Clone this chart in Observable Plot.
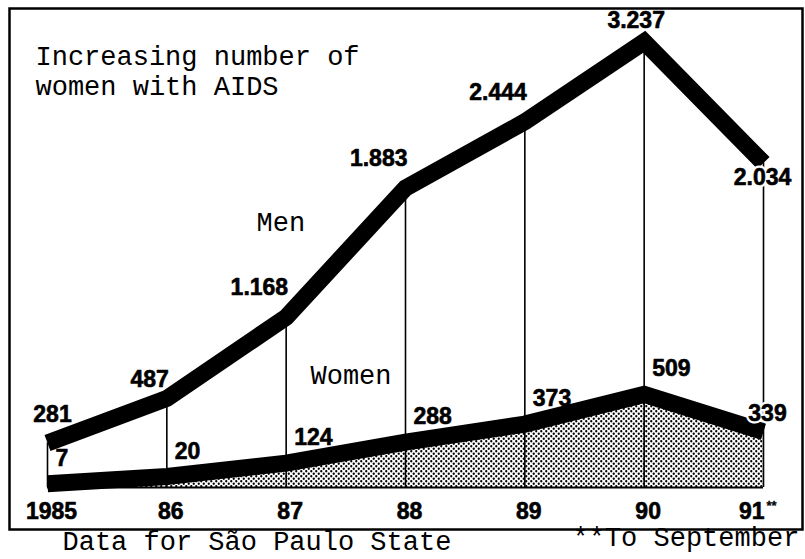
<!DOCTYPE html>
<html>
<head>
<meta charset="utf-8">
<script src="https://cdn.jsdelivr.net/npm/d3@7"></script>
<script src="https://cdn.jsdelivr.net/npm/@observablehq/plot@0.6"></script>
<style>
  html, body { margin: 0; padding: 0; background: #fff; }
  #chart svg { display: block; }
</style>
</head>
<body>
<div id="chart"></div>
<script>
// ---- data ----
const years = [1985, 1986, 1987, 1988, 1989, 1990, 1991];
const yearLabels = ["1985", "86", "87", "88", "89", "90", "91"];
const men = [281, 487, 1168, 1883, 2444, 3237, 2034];
const women = [7, 20, 124, 288, 373, 509, 339];
const seriesNames = ["Men", "Women"];
const titleText = "Increasing number of\nwomen with AIDS";
const sourceNote = "Data for São Paulo State";
const periodNote = "**To September";
const lastYearMark = "**";

// Portuguese-style thousands separator (1.168)
const fmt = d3.formatLocale({decimal: ",", thousands: ".", grouping: [3], currency: ["", ""]}).format(",d");

const rows = years.map((year, i) => ({year, label: yearLabels[i], men: men[i], women: women[i]}));
const last = years.length - 1;

const mono = "'Courier New', 'Liberation Mono', monospace";
const sans = "Arial, 'Liberation Sans', Helvetica, sans-serif";
const num = {fontFamily: sans, fontWeight: "bold", fontSize: 23, fill: "black", stroke: "black", strokeWidth: 0.6, lineAnchor: "bottom"};
const typ = {fontFamily: mono, fontSize: 27, fill: "black", lineAnchor: "bottom", textAnchor: "start", frameAnchor: "top-left"};
const halo = {fill: "white", stroke: "white", strokeWidth: 5, strokeLinejoin: "round"};
const only = (...idx) => (d, i) => idx.includes(i);
const menText = d => fmt(d.men);
const womenText = d => fmt(d.women);

const chart = Plot.plot({
  width: 805,
  height: 559,
  marginLeft: 9,
  marginTop: 8,
  marginRight: 3,
  marginBottom: 30,
  x: {domain: [years[0], years[last]], range: [47, 763], axis: null},
  // hand-drawn, non-uniform vertical scale of the original: piecewise linear
  y: {type: "linear", domain: [0, 20, 300, 500, 1200, 2000, 3300], range: [487, 476, 440, 395, 313, 166, 35], axis: null},
  style: {background: "white", overflow: "visible"},
  marks: [
    Plot.frame({stroke: "black", strokeWidth: 2.5}),
    // stippled area under the women's line
    Plot.areaY(rows, {x: "year", y: "women", fill: "url(#dots)"}),
    Plot.ruleY([0], {x1: years[0], x2: years[last], stroke: "black", strokeWidth: 2}),
    // thin verticals at each year
    Plot.ruleX(rows, {x: "year", y1: 0, y2: "men", stroke: "black", strokeWidth: 1.6}),
    // thick lines
    Plot.line(rows, {x: "year", y: "men", stroke: "black", strokeWidth: 17, strokeLinejoin: "miter", strokeLinecap: "butt", strokeMiterlimit: 10}),
    Plot.line(rows, {x: "year", y: "women", stroke: "black", strokeWidth: 17, strokeLinejoin: "miter", strokeLinecap: "butt", strokeMiterlimit: 10}),
    // men value labels
    Plot.text(rows, {filter: only(0), x: "year", y: "men", text: menText, ...num, textAnchor: "middle", dx: 5, dy: -21}),
    Plot.text(rows, {filter: only(1), x: "year", y: "men", text: menText, ...num, textAnchor: "end", dx: 2, dy: -11}),
    Plot.text(rows, {filter: only(2, 3, 4), x: "year", y: "men", text: menText, ...num, textAnchor: "end", dx: 2, dy: -22}),
    Plot.text(rows, {filter: only(5), x: "year", y: "men", text: menText, ...num, textAnchor: "middle", dx: -8, dy: -14}),
    Plot.text(rows, {filter: only(6), x: "year", y: "men", text: menText, ...num, ...halo, textAnchor: "middle", dx: -1, dy: 22}),
    Plot.text(rows, {filter: only(6), x: "year", y: "men", text: menText, ...num, textAnchor: "middle", dx: -1, dy: 22}),
    // women value labels
    Plot.text(rows, {filter: only(0, 1, 2, 3, 4, 5), x: "year", y: "women", text: womenText, ...num, textAnchor: "start", dx: 8, dy: -18}),
    Plot.text(rows, {filter: only(6), x: "year", y: "women", text: womenText, ...num, ...halo, textAnchor: "middle", dx: 4, dy: -11}),
    Plot.text(rows, {filter: only(6), x: "year", y: "women", text: womenText, ...num, textAnchor: "middle", dx: 4, dy: -11}),
    // year labels
    Plot.text(rows, {filter: only(0, 1, 2, 3, 4, 5), x: "year", y: 0, text: "label", ...num, textAnchor: "middle", dx: 4, dy: 31}),
    Plot.text(rows, {filter: only(6), x: "year", y: 0, text: "label", ...num, textAnchor: "end", dx: 1, dy: 31}),
    Plot.text(rows, {filter: only(6), x: "year", y: 0, text: () => lastYearMark, ...num, fontSize: 13, strokeWidth: 0.3, textAnchor: "start", dx: 3, dy: 22}),
    // typewriter texts
    Plot.text([titleText], {text: d => d, ...typ, lineHeight: 1.11, dx: 26, dy: 86}),
    Plot.text([seriesNames[0]], {text: d => d, ...typ, dx: 247, dy: 222}),
    Plot.text([seriesNames[1]], {text: d => d, ...typ, dx: 301, dy: 375}),
    Plot.text([sourceNote], {text: d => d, ...typ, frameAnchor: "bottom-left", dx: 53, dy: 20}),
    Plot.text([periodNote], {text: d => d, ...typ, frameAnchor: "bottom-left", dx: 563, dy: 16})
  ]
});

const svgEl = chart.tagName.toLowerCase() === "svg" ? chart : chart.querySelector("svg");
const defs = d3.select(svgEl).insert("defs", ":first-child");
const pat = defs.append("pattern")
  .attr("id", "dots").attr("width", 5).attr("height", 5)
  .attr("patternUnits", "userSpaceOnUse");
pat.append("rect").attr("width", 5).attr("height", 5).attr("fill", "white");
pat.append("circle").attr("cx", 1.25).attr("cy", 1.25).attr("r", 1.15).attr("fill", "black");
pat.append("circle").attr("cx", 3.75).attr("cy", 3.75).attr("r", 1.15).attr("fill", "black");

document.getElementById("chart").appendChild(chart);
</script>
</body>
</html>
